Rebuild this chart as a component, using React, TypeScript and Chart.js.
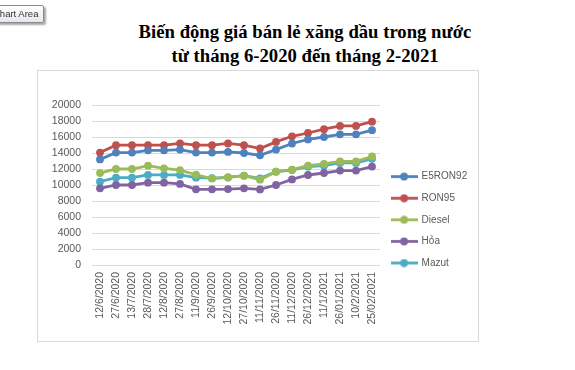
import React, { useEffect, useRef } from "react";
import { Chart, registerables } from "chart.js";

Chart.register(...registerables);

const categories = [
  "12/6/2020", "27/6/2020", "13/7/2020", "28/7/2020", "12/8/2020", "27/8/2020",
  "11/9/2020", "26/9/2020", "12/10/2020", "27/10/2020", "11/11/2020", "26/11/2020",
  "11/12/2020", "26/12/2020", "11/1/2021", "26/01/2021", "10/2/2021", "25/02/2021",
];

const e5ron92 = [13200, 14050, 14050, 14340, 14340, 14430, 14050, 14050, 14130, 14000, 13710, 14430, 15190, 15700, 16000, 16340, 16340, 16850];
const ron95 = [14050, 14975, 14975, 14975, 14975, 15190, 14975, 14975, 15190, 14975, 14560, 15390, 16090, 16500, 16975, 17390, 17390, 17910];
const diesel = [11490, 12000, 12000, 12420, 12080, 11870, 11280, 10800, 10940, 11165, 10660, 11660, 11910, 12420, 12630, 12960, 12960, 13560];
const hoa = [9580, 10000, 10000, 10290, 10290, 10130, 9455, 9455, 9495, 9580, 9450, 10000, 10700, 11250, 11500, 11800, 11800, 12300];
const mazut = [10420, 10920, 10920, 11265, 11265, 11265, 10920, 10850, 10950, 11165, 10830, 11660, 11875, 12290, 12420, 12760, 12760, 13270];

const seriesNames = ["E5RON92", "RON95", "Diesel", "Hỏa", "Mazut"];
const seriesColors = ["#4F81BD", "#C0504D", "#9BBB59", "#8064A2", "#4BACC6"];
const seriesValues = [e5ron92, ron95, diesel, hoa, mazut];

const yTicks = { min: 0, max: 20000, step: 2000 };

const titleLines = ["Biến động giá bán lẻ xăng dầu trong nước", "từ tháng 6-2020 đến tháng 2-2021"];

function makeLegendImage(color: string): HTMLCanvasElement {
  const c = document.createElement("canvas");
  c.width = 27;
  c.height = 9;
  const ctx = c.getContext("2d")!;
  ctx.strokeStyle = color;
  ctx.lineWidth = 2.8;
  ctx.beginPath();
  ctx.moveTo(0, 4.5);
  ctx.lineTo(27, 4.5);
  ctx.stroke();
  ctx.fillStyle = color;
  ctx.beginPath();
  ctx.arc(13.5, 4.5, 3.9, 0, Math.PI * 2);
  ctx.fill();
  return c;
}

export default function App() {
  const ref = useRef<HTMLCanvasElement | null>(null);

  useEffect(() => {
    if (!ref.current) return;
    const imgs = seriesColors.map(makeLegendImage);
    const chart = new Chart(ref.current, {
      type: "line",
      data: {
        labels: categories,
        datasets: seriesNames.map((name, i) => ({
          label: name,
          data: seriesValues[i],
          borderColor: seriesColors[i],
          backgroundColor: seriesColors[i],
          pointBackgroundColor: seriesColors[i],
          pointBorderColor: seriesColors[i],
          borderWidth: 2.8,
          pointRadius: 3.9,
          pointBorderWidth: 0,
          tension: 0,
          fill: false,
        })),
      },
      options: {
        responsive: false,
        animation: false,
        layout: { padding: { left: 35, top: 105, right: 97.8, bottom: 0 } },
        plugins: {
          title: { display: false },
          tooltip: { enabled: false },
          legend: {
            display: true,
            position: "right",
            align: "start",
            title: {
              display: true,
              text: " ",
              font: { size: 10, family: "Liberation Sans" },
              padding: { top: 43, bottom: 0 },
            },
            labels: {
              usePointStyle: true,
              pointStyleWidth: 25,
              padding: 11.6,
              color: "#595959",
              font: { size: 10, family: "Liberation Sans" },
              generateLabels: (ch: any) => {
                const items = (Chart.defaults.plugins.legend.labels as any).generateLabels(ch);
                items.forEach((it: any, i: number) => {
                  it.pointStyle = imgs[i];
                });
                return items;
              },
            },
          },
        },
        scales: {
          x: {
            type: "category",
            offset: true,
            grid: { display: false, drawTicks: false },
            border: { display: false },
            afterFit: (scale: any) => {
              scale.height = 105;
            },
            ticks: {
              autoSkip: false,
              minRotation: 90,
              maxRotation: 90,
              padding: 7,
              color: "#595959",
              font: { size: 10.5, family: "Liberation Sans" },
            },
          },
          y: {
            min: yTicks.min,
            max: yTicks.max,
            afterFit: (scale: any) => {
              scale.width = 57;
            },
            ticks: {
              stepSize: yTicks.step,
              padding: 11,
              color: "#595959",
              font: { size: 10.5, family: "Liberation Sans" },
              callback: (v: any) => String(v),
            },
            grid: { color: "#d9d9d9", lineWidth: 1, drawTicks: false },
            border: { display: false },
          },
        },
      },
    } as any);
    return () => chart.destroy();
  }, []);

  return (
    <div style={{ position: "absolute", left: 0, top: 0, width: 575, height: 370, overflow: "hidden", background: "#fff" }}>
      <div
        style={{
          position: "absolute",
          left: 37,
          top: 70,
          width: 442,
          height: 272,
          boxSizing: "border-box",
          border: "1px solid #d9d9d9",
        }}
      />
      <div
        style={{
          position: "absolute",
          left: 0,
          top: 20,
          width: 610,
          textAlign: "center",
          fontFamily: "'Liberation Serif', serif",
          fontWeight: "bold",
          fontSize: 18.7,
          lineHeight: "24px",
          color: "#000",
        }}
      >
        {titleLines.map((t) => (
          <div key={t}>{t}</div>
        ))}
      </div>
      <canvas ref={ref} width={575} height={370} style={{ position: "absolute", left: 0, top: 0 }} />
      <div
        style={{
          position: "absolute",
          left: -10,
          top: 5,
          height: 16,
          lineHeight: "16px",
          padding: "0 5px 0 2px",
          border: "1px solid #8a8a8a",
          borderRadius: 2,
          background: "linear-gradient(#ffffff, #e6e7ee)",
          boxShadow: "2px 2px 2px rgba(0,0,0,0.35)",
          fontFamily: "'Liberation Sans', sans-serif",
          fontSize: 9.5,
          color: "#333",
          whiteSpace: "nowrap",
        }}
      >
        Chart Area
      </div>
    </div>
  );
}
